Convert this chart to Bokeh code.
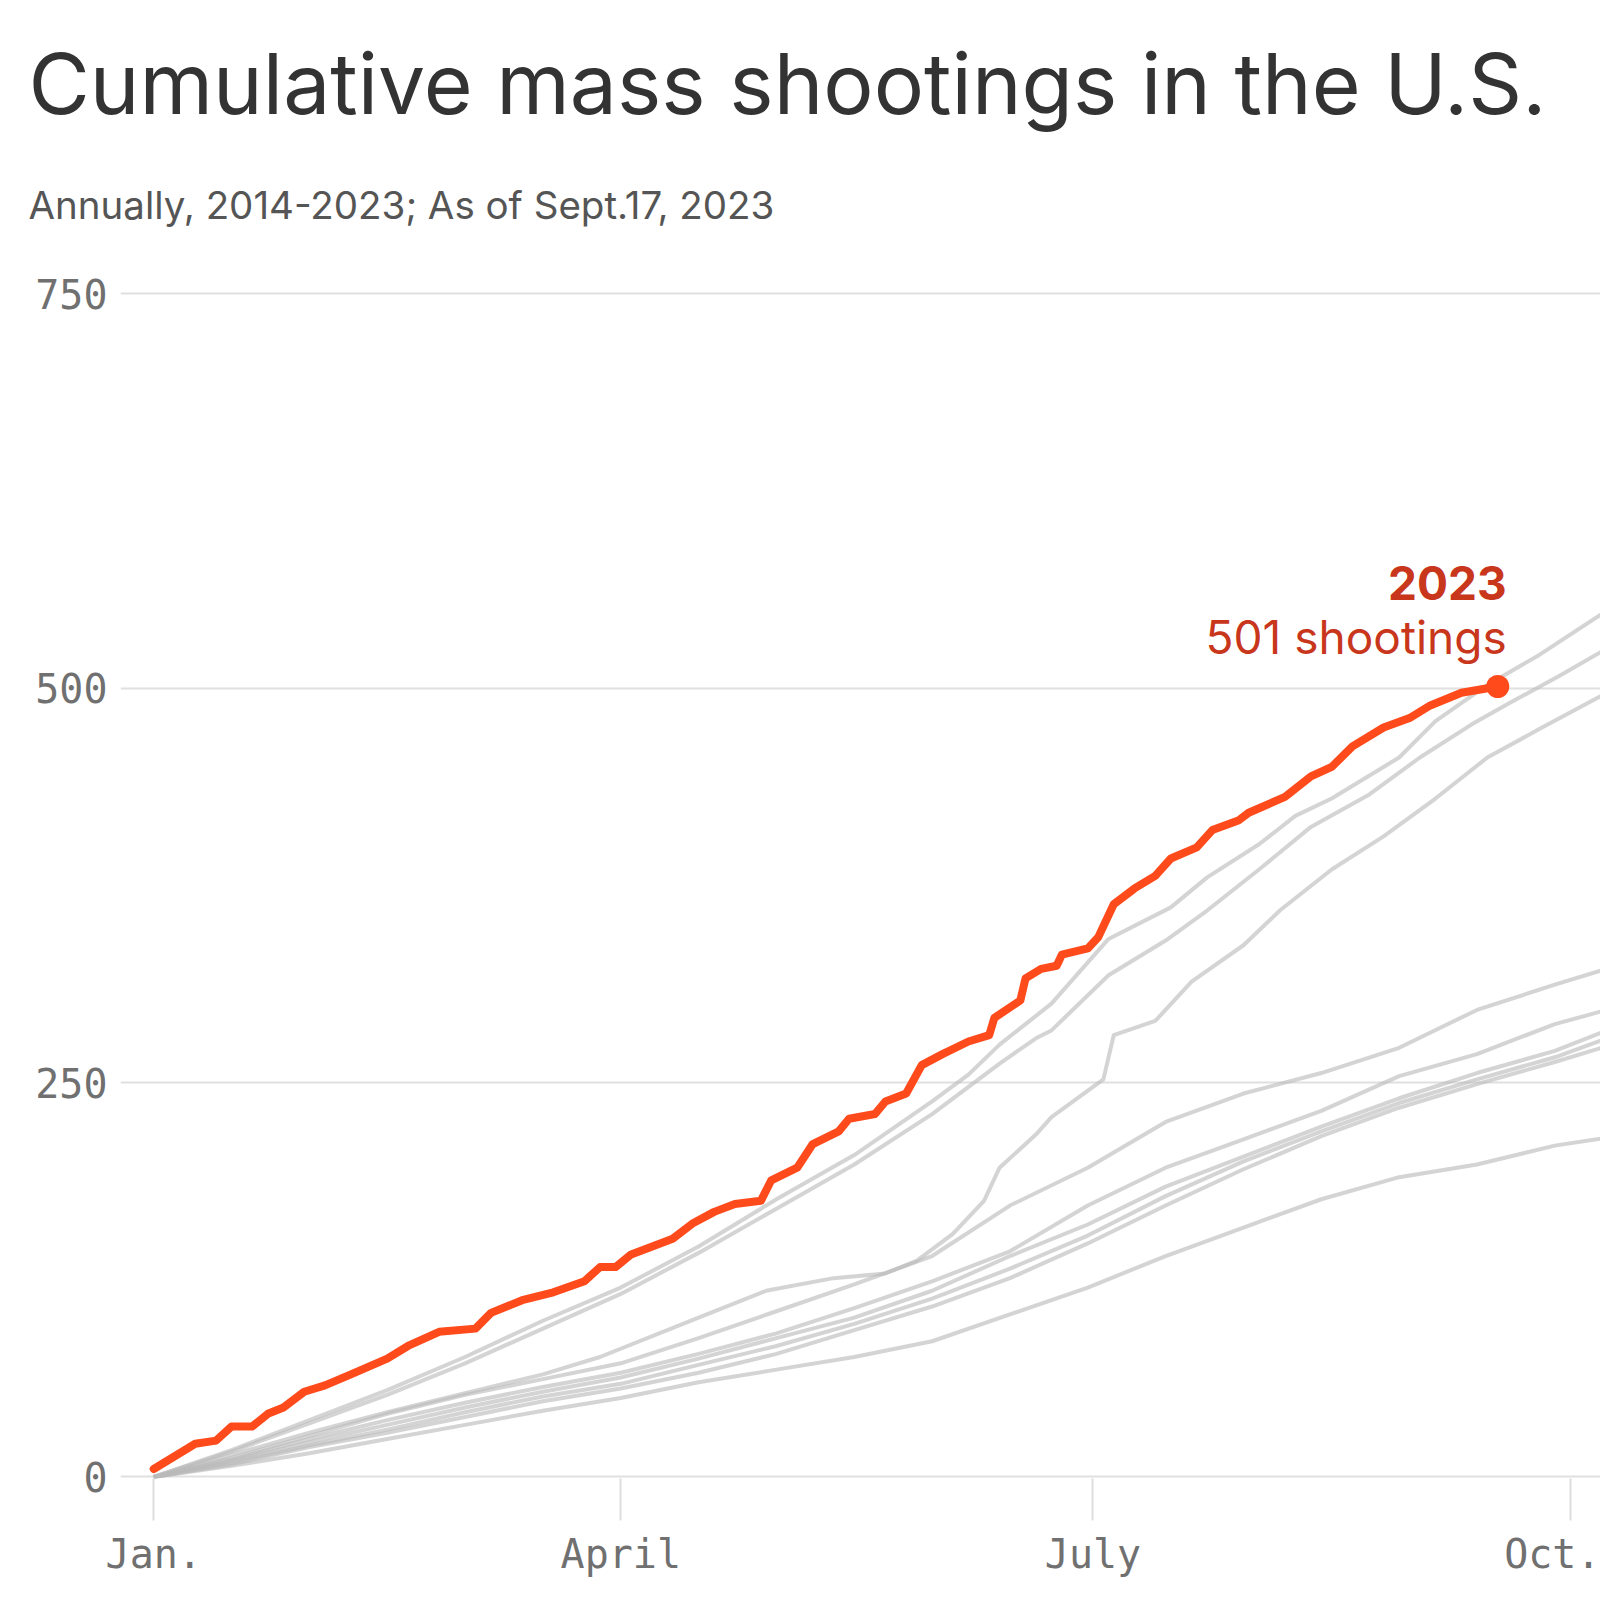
from bokeh.plotting import figure
from bokeh.models import Range1d, FixedTicker, Label, Title
from bokeh.embed import file_html
from bokeh.resources import INLINE

# ---- data (day of year, 0 = Jan 1; cumulative mass shootings) ----
tick_days = [0, 90, 181, 273]
tick_labels = ["Jan.", "April", "July", "Oct."]
y_ticks = [0, 250, 500, 750]

red_days = [0, 8, 12, 15, 19, 22, 25, 29, 33, 38, 45, 49, 55, 62, 65, 71, 77, 83, 86, 89,
            92, 100, 104, 108, 112, 117, 119, 124, 127, 132, 134, 139, 141, 145, 148, 152, 157, 161, 162, 167,
            168, 171, 174, 175, 180, 182, 185, 189, 193, 196, 201, 204, 209, 211, 218, 223, 227, 231, 237, 242,
            246, 252, 259]
red_vals = [5, 21, 23, 32, 32, 40, 44, 54, 58, 65, 75, 83, 92, 94, 104, 112, 117, 124, 133, 133,
            141, 151, 161, 168, 173, 175, 188, 196, 211, 219, 227, 230, 238, 243, 261, 268, 276, 280, 291, 302,
            316, 322, 324, 331, 335, 342, 363, 373, 381, 392, 399, 410, 416, 421, 431, 444, 450, 463, 475, 481,
            489, 497, 501]

days_2021 = [0, 15, 30, 45, 60, 75, 90, 105, 120, 135, 150, 157, 163, 173, 184, 196, 203, 213, 220, 227,
             240, 247, 257, 267, 280]
vals_2021 = [0, 17, 36, 55, 76, 99, 120, 146, 176, 204, 238, 255, 274, 300, 341, 361, 380, 401, 419, 430,
             456, 479, 502, 521, 549]

days_2022 = [0, 15, 30, 45, 60, 75, 90, 105, 120, 135, 150, 163, 170, 173, 184, 195, 203, 213, 223, 234,
             244, 254, 261, 271, 280]
vals_2022 = [0, 16, 34, 52, 72, 94, 116, 142, 170, 198, 230, 262, 278, 283, 318, 340, 359, 385, 412, 432,
             456, 477, 490, 508, 525]

days_2020 = [0, 15, 30, 45, 60, 75, 86, 105, 118, 131, 141, 147, 154, 160, 163, 170, 173, 183, 185, 193,
             200, 210, 217, 227, 237, 247, 257, 267, 280]
vals_2020 = [0, 14, 28, 41, 53, 65, 76, 101, 118, 126, 129, 137, 154, 175, 196, 217, 228, 252, 280, 289,
             314, 337, 359, 385, 406, 430, 456, 474, 497]

days_low = [0, 15, 30, 45, 60, 75, 90, 105, 120, 135, 150, 165, 180, 195, 210, 225, 240, 255, 270, 280]
vals_2019 = [0, 12, 26, 40, 52, 62, 72, 88, 105, 122, 140, 172, 196, 225, 243, 256, 272, 296, 312, 322]
vals_2016 = [0, 11, 24, 36, 47, 57, 66, 78, 91, 107, 124, 143, 172, 196, 214, 232, 254, 268, 287, 296]
vals_2017 = [0, 10, 22, 33, 44, 54, 63, 75, 88, 101, 118, 140, 160, 184, 203, 222, 240, 256, 270, 283]
vals_2018 = [0, 9, 20, 30, 41, 51, 59, 71, 83, 97, 113, 132, 153, 178, 200, 219, 237, 252, 266, 278]
vals_2015 = [0, 8, 19, 28, 38, 48, 56, 66, 78, 93, 108, 126, 148, 172, 195, 216, 234, 249, 263, 273]
vals_2014 = [0, 7, 15, 24, 33, 42, 50, 60, 68, 76, 86, 103, 120, 140, 158, 176, 190, 198, 210, 215]

grey_series = [
    (days_low, vals_2014), (days_low, vals_2015), (days_low, vals_2016), (days_low, vals_2017),
    (days_low, vals_2018), (days_low, vals_2019), (days_2020, vals_2020), (days_2021, vals_2021),
    (days_2022, vals_2022),
]

title_text = "Cumulative mass shootings in the U.S."
subtitle_text = "Annually, 2014-2023; As of Sept.17, 2023"
note_year = "2023"
note_count = "501 shootings"

# ---- figure ----
p = figure(width=1600, height=1600, output_backend="svg", toolbar_location=None,
           x_range=Range1d(-6.4, 278.8), y_range=Range1d(-1, 752),
           min_border_left=120, min_border_right=0, min_border_top=290, min_border_bottom=122)
p.outline_line_color = None
p.background_fill_color = "white"
p.border_fill_color = "white"

p.xgrid.grid_line_color = None
p.ygrid.grid_line_color = "#e0e0e0"
p.ygrid.grid_line_width = 2
p.yaxis.ticker = FixedTicker(ticks=y_ticks)
p.xaxis.ticker = FixedTicker(ticks=tick_days)
p.xaxis.major_label_overrides = {d: l for d, l in zip(tick_days, tick_labels)}

for ax in (p.xaxis, p.yaxis):
    ax.axis_line_color = None
    ax.minor_tick_line_color = None
    ax.major_label_text_font = "DejaVu Sans Mono"
    ax.major_label_text_font_size = "40px"
    ax.major_label_text_color = "#707070"
p.yaxis.major_tick_line_color = None
p.yaxis.major_tick_in = 0
p.yaxis.major_tick_out = 0
p.yaxis.major_label_standoff = 13
p.xaxis.major_tick_line_color = "#dddddd"
p.xaxis.major_tick_line_width = 2
p.xaxis.major_tick_in = 0
p.xaxis.major_tick_out = 42
p.xaxis.major_label_standoff = 10

for d, v in grey_series:
    p.line(d, v, line_color="#bababa", line_alpha=0.62, line_width=4, line_join="round")

p.line(red_days, red_vals, line_color="#ff4a1c", line_width=8, line_join="round", line_cap="round")
p.scatter([red_days[-1]], [red_vals[-1]], size=23, fill_color="#ff4a1c", line_color=None)

# ---- texts ----
p.add_layout(Title(text=subtitle_text, text_font="Inter", text_font_size="38.5px",
                   text_font_style="normal", text_color="#555555", align="left",
                   offset=-92, standoff=125), "above")
p.add_layout(Title(text=title_text, text_font="Inter", text_font_size="84px",
                   text_font_style="normal", text_color="#333333", align="left",
                   offset=-92, standoff=-32), "above")

p.add_layout(Label(x=red_days[-1], y=red_vals[-1], x_offset=9, y_offset=104, text=note_year,
                   text_font="Inter", text_font_size="46px", text_font_style="bold",
                   text_color="#c8361c", text_baseline="alphabetic", text_align="right"))
p.add_layout(Label(x=red_days[-1], y=red_vals[-1], x_offset=9, y_offset=50, text=note_count,
                   text_font="Inter", text_font_size="46px",
                   text_color="#c8361c", text_baseline="alphabetic", text_align="right"))

open("out.html", "w").write(file_html(p, INLINE))
